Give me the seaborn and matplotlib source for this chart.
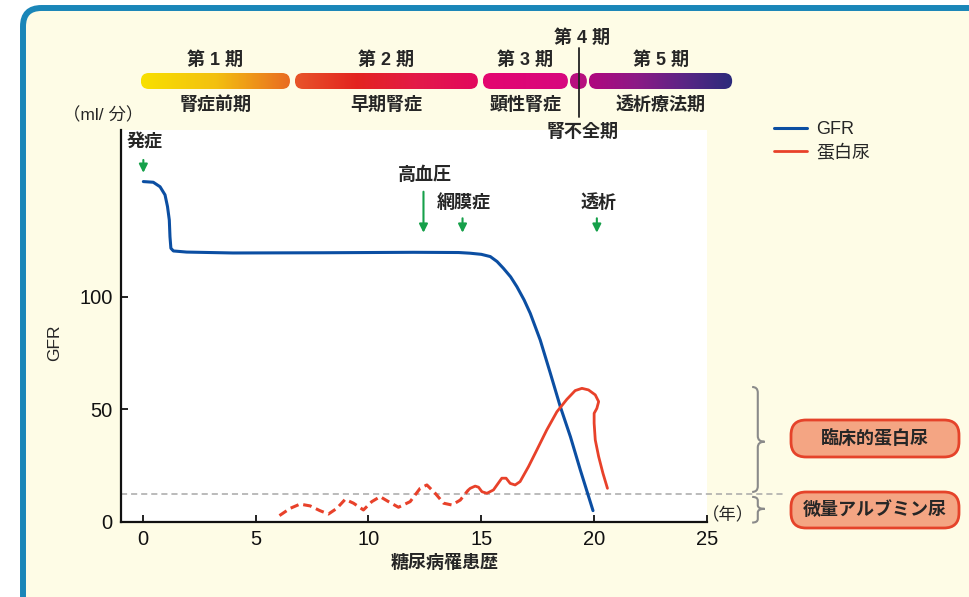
import numpy as np
import pandas as pd
import seaborn as sns
import matplotlib.pyplot as plt
from matplotlib.patches import FancyBboxPatch, PathPatch
from matplotlib.path import Path
from matplotlib.colors import LinearSegmentedColormap

# GFR curve (years since onset, ml/min)
gfr_year = [0.03, 0.47, 0.77, 0.99, 1.10, 1.18, 1.21, 1.25, 1.36, 1.95, 4.0, 8.0, 12.0,
            14.0, 14.5, 15.0, 15.4, 15.7, 15.98, 16.3, 16.58, 16.9, 17.17, 17.61, 18.06,
            18.5, 18.95, 19.39, 19.95]
gfr_value = [151.1, 150.8, 148.8, 145.2, 140.0, 134.0, 126.6, 121.5, 120.3, 119.8, 119.4, 119.5, 119.7,
             119.6, 119.3, 118.8, 117.8, 115.6, 112.6, 108.8, 104.4, 98.5, 92.6, 80.8, 66.0,
             51.2, 37.8, 23.0, 5.0]

# proteinuria, dashed (microalbuminuria) part
micro_year = [6.06, 6.53, 6.97, 7.42, 7.85, 8.23, 8.6, 8.97, 9.34, 9.78, 10.15, 10.52, 10.89,
              11.33, 11.85, 12.29, 12.59, 12.96, 13.33, 13.7, 14.07, 14.43]
micro_value = [2.8, 6.0, 7.9, 7.1, 5.0, 3.5, 6.0, 10.0, 8.3, 5.3, 9.0, 11.2, 9.0,
               6.5, 9.0, 14.9, 16.4, 12.7, 8.3, 7.5, 9.7, 14.2]

# proteinuria, solid part
prot_year = [14.43, 14.51, 14.73, 14.88, 15.03, 15.25, 15.54, 15.91, 16.1, 16.28, 16.5, 16.72,
             17.09, 17.46, 17.9, 18.35, 18.79, 19.16, 19.46, 19.75, 20.05, 20.2, 20.12, 20.0,
             20.0, 20.05, 20.2, 20.39, 20.59]
prot_value = [14.2, 14.9, 15.9, 15.4, 13.4, 12.7, 14.2, 19.4, 19.4, 17.1, 16.4, 17.9,
              24.5, 31.9, 40.8, 48.9, 54.4, 58.3, 59.3, 58.6, 56.4, 53.4, 50.4, 48.2,
              43.8, 36.4, 29.0, 21.6, 14.9]

micro_threshold = 12.3

# stages of diabetic nephropathy
stage_labels = ['第 1 期', '第 2 期', '第 3 期', '第 4 期', '第 5 期']
stage_names = ['腎症前期', '早期腎症', '顕性腎症', '腎不全期', '透析療法期']
stage_start = [-0.08, 6.75, 15.08, 18.94, 19.78]
stage_end = [6.53, 14.86, 18.85, 19.69, 26.13]
stage_colors = [['#f8e000', '#f3c010', '#e96a22'],
                ['#e8552a', '#e3241f', '#e31a48', '#e2085e'],
                ['#e4066f', '#d7087f'],
                ['#b7107f', '#b7107f'],
                ['#b0087e', '#8b1a86', '#5a2585', '#2b2b7b']]

# events
event_labels = ['発症', '高血圧', '網膜症', '透析']
event_year = [0.03, 12.44, 14.17, 20.12]

sns.set_style('ticks')
plt.rcParams['font.family'] = ['Liberation Sans', 'Noto Sans CJK JP']

W, H = 970, 597
fig = plt.figure(figsize=(9.7, 5.97), dpi=100)
fig.patch.set_facecolor('white')

frame = FancyBboxPatch((23 / W, -0.1), 1.2, 1 - 8 / H + 0.1,
                       boxstyle='round,pad=0,rounding_size=0.019', mutation_aspect=W / H,
                       transform=fig.transFigure, fc='#fefce6', ec='#1a86b8', lw=4.3, zorder=-1)
fig.add_artist(frame)

ax = fig.add_axes([121 / W, 1 - 521.9 / H, 586 / W, 391.9 / H])
ax.set_facecolor('white')

blue = '#0b4ea2'
red = '#e8412a'
green = '#16a04a'

sns.lineplot(x=gfr_year, y=gfr_value, ax=ax, color=blue, lw=2.2, sort=False, estimator=None, label='GFR')
sns.lineplot(x=prot_year, y=prot_value, ax=ax, color=red, lw=2.0, sort=False, estimator=None, label='蛋白尿')
sns.lineplot(x=micro_year, y=micro_value, ax=ax, color=red, lw=2.2, sort=False, estimator=None,
             linestyle=(0, (2.8, 1.6)), legend=False)

ax.axhline(micro_threshold, xmin=0, xmax=(785 - 121) / 586, color='#a8a8a8', lw=1.1,
           linestyle=(0, (4, 2.6)), clip_on=False, zorder=1)

# event arrows
arrow_top = [160.7, 146.6, 134.8, 134.8]
arrow_tip = [155.0, 128.4, 128.4, 128.4]
text_pos = [(0.07, 168.4), (12.51, 154.0), (14.21, 141.5), (20.2, 141.5)]
for lab, xv, t0, t1, (tx, ty) in zip(event_labels, event_year, arrow_top, arrow_tip, text_pos):
    ax.annotate('', xy=(xv, t1), xytext=(xv, t0),
                arrowprops=dict(arrowstyle='-|>,head_length=0.5,head_width=0.25', color=green,
                                lw=1.5, shrinkA=0, shrinkB=0))
    ax.text(tx, ty, lab, ha='center', va='center', fontsize=13, weight='bold')

# braces
def brace(y_top, y_bot, y_mid, r):
    x0, xs, xc = 27.0, 27.25, 27.55
    verts = [(x0, y_top), (xs, y_top), (xs, y_top - r), (xs, y_mid + r), (xs, y_mid), (xc, y_mid),
             (xs, y_mid), (xs, y_mid - r), (xs, y_bot + r), (xs, y_bot), (x0, y_bot)]
    codes = [Path.MOVETO, Path.CURVE3, Path.CURVE3, Path.LINETO, Path.CURVE3, Path.CURVE3,
             Path.CURVE3, Path.CURVE3, Path.LINETO, Path.CURVE3, Path.CURVE3]
    ax.add_patch(PathPatch(Path(verts, codes), fc='none', ec='#8a8a8a', lw=1.5, clip_on=False))

brace(59.9, 13.3, 35.6, 2.5)
brace(11.1, -0.3, 5.8, 1.6)

ax.set_xlim(-0.96, 25.0)
ax.set_ylim(0, 174)
ax.set_xticks([0, 5, 10, 15, 20, 25])
ax.set_yticks([0, 50, 100])
ax.tick_params(direction='in', length=5, width=1.3, labelsize=14.5, pad=6, colors='#111111')
sns.despine(ax=ax)
for s in ['left', 'bottom']:
    ax.spines[s].set_linewidth(1.6)
    ax.spines[s].set_color('#111111')

ax.set_xlabel('糖尿病罹患歴', fontsize=13, weight='bold')
ax.xaxis.set_label_coords(0.553, -0.105)
ax.xaxis.label.set_va('center')
ax.set_ylabel('GFR', fontsize=12.5)
ax.yaxis.set_label_coords(-0.114, 0.456)
ax.yaxis.label.set_va('center')
ax.text(-0.031, 1.038, '（ml/ 分）', transform=ax.transAxes, ha='center', va='center', fontsize=12.5)
ax.text(25.94, 3.1, '（年）', ha='center', va='center', fontsize=12.5, clip_on=False)

ax.legend(loc='upper left', bbox_to_anchor=(774 / W, 1 - 121 / H), bbox_transform=fig.transFigure,
          frameon=False, fontsize=13, handlelength=1.8, handletextpad=0.55, borderpad=0,
          borderaxespad=0, labelspacing=0.35)

# stage bar on top
top = fig.add_axes([121 / W, (H - 145) / H, 640 / W, 120 / H])
top.axis('off')
grad = np.linspace(0, 1, 256)[None, :]
for lab, name, s, e, cols in zip(stage_labels, stage_names, stage_start, stage_end, stage_colors):
    patch = FancyBboxPatch((s, 73), e - s, 16, boxstyle='round,pad=0,rounding_size=0.355',
                           mutation_aspect=22.56, fc='none', ec='none')
    top.add_patch(patch)
    im = top.imshow(grad, cmap=LinearSegmentedColormap.from_list('c', cols), extent=(s, e, 89, 73),
                    aspect='auto', interpolation='bilinear')
    im.set_clip_path(patch)
    cx = (s + e) / 2
    if lab == '第 4 期':
        top.text(cx + 0.15, 38, lab, ha='center', va='center', fontsize=13, weight='bold')
        top.text(cx + 0.2, 132, name, ha='center', va='center', fontsize=13, weight='bold')
        top.plot([cx + 0.02, cx + 0.02], [48, 117], color='#222222', lw=1.3)
    else:
        top.text(cx, 60, lab, ha='center', va='center', fontsize=13, weight='bold')
        top.text(cx, 105, name, ha='center', va='center', fontsize=13, weight='bold')
top.set_xlim(-0.96, -0.96 + 640 / 22.56)
top.set_ylim(145, 25)

# labelled boxes on the right
for txt, y_top, y_bot in [('臨床的蛋白尿', 420, 457), ('微量アルブミン尿', 492, 528)]:
    fig.add_artist(FancyBboxPatch((791 / W, 1 - y_bot / H), 168 / W, (y_bot - y_top) / H,
                                  boxstyle='round,pad=0,rounding_size=0.0155', mutation_aspect=W / H,
                                  transform=fig.transFigure, fc='#f4a583', ec='#e5432a', lw=2))
    fig.text(875 / W, 1 - (y_top + y_bot) / 2 / H, txt, ha='center', va='center',
             fontsize=13, weight='bold')

plt.savefig('out.png', dpi=100)
